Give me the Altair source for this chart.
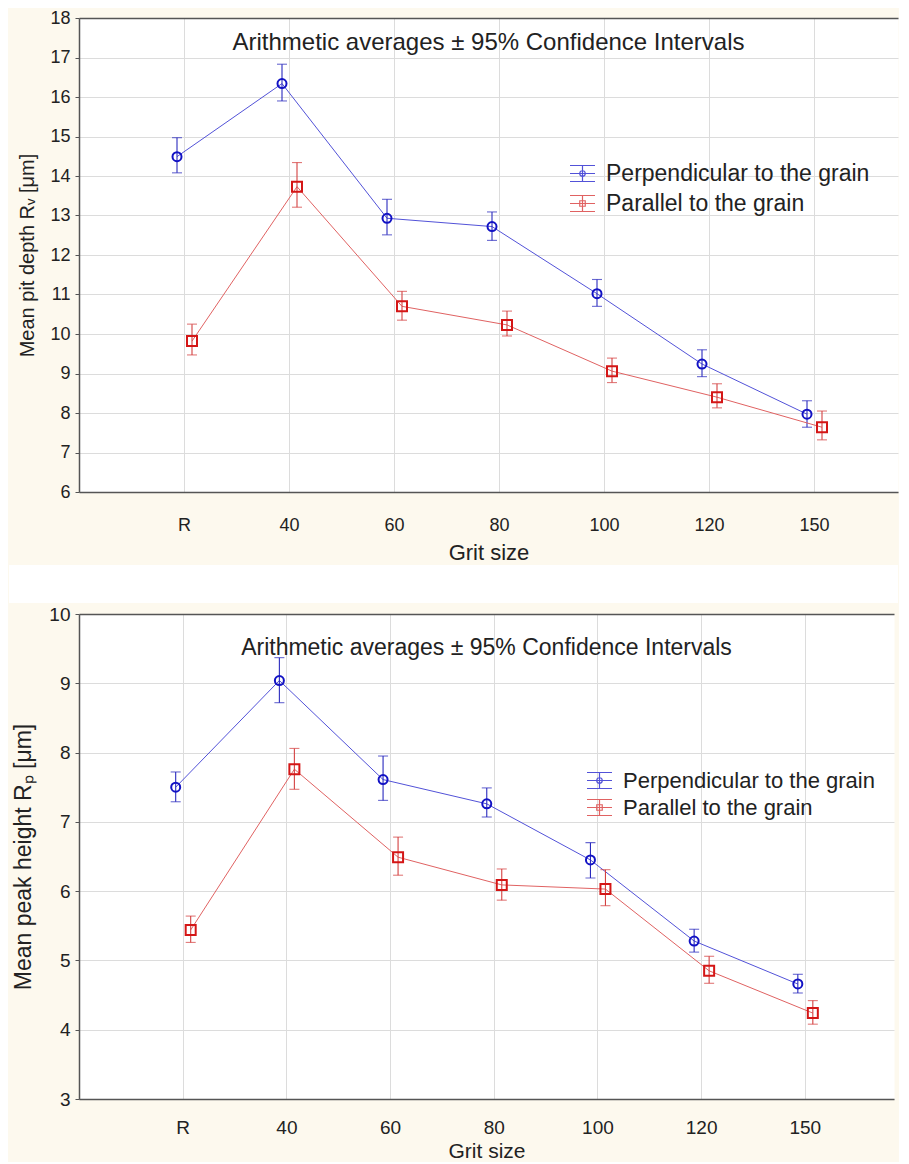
import json
import pandas as pd
import altair as alt

categories = ["R", "40", "60", "80", "100", "120", "150"]
series_names = ["Perpendicular to the grain", "Parallel to the grain"]
chart_title = "Arithmetic averages ± 95% Confidence Intervals"

# Top panel: mean pit depth Rv [um]
rv_perp_mean = [14.49, 16.34, 12.93, 12.72, 11.02, 9.24, 7.97]
rv_perp_lo = [14.08, 15.90, 12.51, 12.37, 10.70, 8.92, 7.64]
rv_perp_hi = [14.97, 16.83, 13.41, 13.09, 11.38, 9.60, 8.31]
rv_par_mean = [9.82, 13.73, 10.70, 10.23, 9.06, 8.40, 7.64]
rv_par_lo = [9.47, 13.21, 10.35, 9.95, 8.77, 8.13, 7.32]
rv_par_hi = [10.25, 14.34, 11.08, 10.58, 9.39, 8.74, 8.05]

# Bottom panel: mean peak height Rp [um]
rp_perp_mean = [7.50, 9.04, 7.61, 7.26, 6.45, 5.28, 4.66]
rp_perp_lo = [7.29, 8.72, 7.31, 7.07, 6.19, 5.12, 4.53]
rp_perp_hi = [7.72, 9.37, 7.95, 7.49, 6.70, 5.45, 4.80]
rp_par_mean = [5.44, 7.76, 6.49, 6.09, 6.03, 4.85, 4.24]
rp_par_lo = [5.26, 7.47, 6.23, 5.87, 5.79, 4.67, 4.08]
rp_par_hi = [5.64, 8.06, 6.78, 6.32, 6.31, 5.06, 4.42]

FONT = "Liberation Sans"
TXT = "#222222"
FRAME = "#555555"
GRID = "#dcdcdc"

GLYPH_CIRCLE = ("M-1,-0.64H1M-1,0H1M-1,0.64H1M0,-0.64V0.64"
                "M0.22,0A0.22,0.22 0 1 1 -0.22,0A0.22,0.22 0 1 1 0.22,0")
GLYPH_SQUARE = ("M-1,-0.64H1M-1,0H1M-1,0.64H1M0,-0.64V0.64"
                "M-0.22,-0.22H0.22V0.22H-0.22Z")

label_expr = json.dumps(categories) + "[datum.value]"


def make_df(mean, lo, hi, name):
    return pd.DataFrame({
        "pos": list(range(len(categories))),
        "cat": categories,
        "mean": mean,
        "lo": lo,
        "hi": hi,
        "series": [name] * len(categories),
    })


def panel(perp, par, ymin, ymax, ytitle, W, H, xdom_max, tick_fs, ytitle_fs,
          ytitle_pad, title_y, title_fs, leg_x, leg_y, leg_gap, leg_fs, leg_off,
          xlab_pad, xtitle_pad, xtitle_fs, gap_rect=None):
    xscale = alt.Scale(domain=[-1, xdom_max], nice=False, zero=False)
    yscale = alt.Scale(domain=[ymin, ymax], nice=False, zero=False)
    xaxis = alt.Axis(
        values=list(range(len(categories))), labelExpr=label_expr,
        grid=True, gridColor=GRID, gridWidth=1, tickSize=0,
        domainColor=FRAME, domainWidth=1.5,
        labelFontSize=tick_fs, labelColor=TXT, labelPadding=xlab_pad,
        labelFont=FONT, title="Grit size", titleFont=FONT, titleFontSize=xtitle_fs,
        titleFontWeight="normal", titleColor=TXT, titlePadding=xtitle_pad,
    )
    yaxis = alt.Axis(
        values=list(range(ymin, ymax + 1)), grid=True,
        gridColor={"condition": {"test": f"datum.value == {ymax}", "value": FRAME},
                   "value": GRID},
        gridWidth={"condition": {"test": f"datum.value == {ymax}", "value": 1.5},
                   "value": 1},
        tickSize=4, tickColor=FRAME, domainColor=FRAME, domainWidth=1.5,
        labelFontSize=tick_fs, labelColor=TXT, labelPadding=5, labelFont=FONT,
        title=ytitle, titleFont=FONT, titleFontSize=ytitle_fs,
        titleFontWeight="normal", titleColor=TXT, titlePadding=ytitle_pad,
    )

    def X():
        return alt.X("pos:Q", scale=xscale, axis=xaxis)

    def Y(field):
        return alt.Y(f"{field}:Q", scale=yscale, axis=yaxis)

    def series_layer(df, name, line_c, mark_c, err_c, leg_c, shape, size, offset,
                     glyph, ly):
        base = alt.Chart(df)
        line = base.mark_line(strokeWidth=1, xOffset=offset).encode(
            x=X(), y=Y("mean"),
            color=alt.Color(
                "series:N",
                scale=alt.Scale(domain=[name], range=[line_c]),
                legend=alt.Legend(
                    title=None, orient="none", legendX=leg_x, legendY=ly,
                    symbolType=glyph, symbolSize=625, symbolStrokeWidth=1.2,
                    symbolFillColor="transparent", symbolStrokeColor=leg_c,
                    labelFont=FONT, labelFontSize=leg_fs, labelColor=TXT,
                    labelOffset=leg_off, labelLimit=500,
                ),
            ),
        )
        rule = base.mark_rule(color=err_c, strokeWidth=1.1, xOffset=offset).encode(
            x=X(), y=Y("lo"), y2="hi:Q")
        cap_lo = base.mark_tick(orient="horizontal", size=10, thickness=1.1,
                                color=err_c, xOffset=offset).encode(x=X(), y=Y("lo"))
        cap_hi = base.mark_tick(orient="horizontal", size=10, thickness=1.1,
                                color=err_c, xOffset=offset).encode(x=X(), y=Y("hi"))
        pts = base.mark_point(shape=shape, size=size, strokeWidth=2,
                              filled=False, color=mark_c, xOffset=offset,
                              opacity=1).encode(x=X(), y=Y("mean"))
        return alt.layer(line, rule, cap_lo, cap_hi, pts)

    title_layer = alt.Chart(pd.DataFrame({"t": [chart_title]})).mark_text(
        font=FONT, fontSize=title_fs, color=TXT, align="center", baseline="middle"
    ).encode(x=alt.value(W / 2), y=alt.value(title_y), text="t:N")

    layers = []
    if gap_rect is not None:
        layers.append(
            alt.Chart(pd.DataFrame({"k": [0]})).mark_rect(color="white").encode(
                x=alt.value(-70), x2=alt.value(W),
                y=alt.value(gap_rect[0]), y2=alt.value(gap_rect[1]))
        )
    layers.append(title_layer)
    layers.append(series_layer(perp, series_names[0], "#5252d8", "#1212c4",
                               "#2a2abe", "#3c3cd0", "circle", 81, -7,
                               GLYPH_CIRCLE, leg_y))
    layers.append(series_layer(par, series_names[1], "#e06262", "#d41616",
                               "#d44040", "#d43c3c", "square", 100, 8,
                               GLYPH_SQUARE, leg_y + leg_gap))
    return alt.layer(*layers).resolve_scale(color="independent").properties(
        width=W, height=H)


top = panel(
    make_df(rv_perp_mean, rv_perp_lo, rv_perp_hi, series_names[0]),
    make_df(rv_par_mean, rv_par_lo, rv_par_hi, series_names[1]),
    6, 18, "Mean pit depth Rᵥ [μm]", 819, 474, 6.8, 18, 20, 12,
    25, 24, 490, 142, 30, 23, 10, 24, 8, 22, gap_rect=(547, 585),
)
bottom = panel(
    make_df(rp_perp_mean, rp_perp_lo, rp_perp_hi, series_names[0]),
    make_df(rp_par_mean, rp_par_lo, rp_par_hi, series_names[1]),
    3, 10, "Mean peak height Rₚ [μm]", 815, 485, 6.86, 19, 23, 13,
    34, 23, 507, 153, 27, 22, 10, 19, 3, 21,
)

chart = alt.vconcat(top, bottom, spacing=0).properties(
    background="#fdf9ee", padding=0
).configure_view(fill="white", stroke="transparent")

chart.save("out.html", embed_options={"renderer": "svg", "actions": False})
